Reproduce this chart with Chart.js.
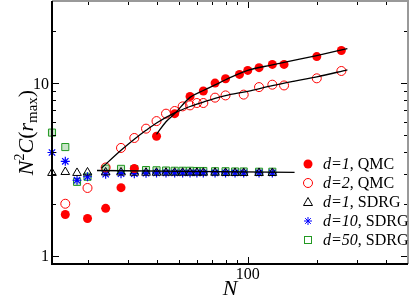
<!DOCTYPE html>
<html lang="en">
  <head>
    <style>
      html, body { margin: 0; padding: 0; background: #fff; }
      .chart { width: 409px; height: 298px; }
    </style>
  </head>
  <body>
    <div class="chart">
      <canvas id="myChart"></canvas>
    </div>

    <script src="https://cdn.jsdelivr.net/npm/chart.js@4.4.1/dist/chart.umd.min.js"></script>
    <script>
      // --- data ---
      var qmc1_n = [16, 20, 24, 28, 32, 40, 48, 56, 64, 72, 80, 92, 100, 112, 128, 144, 200, 256];
      var qmc1_c = [1.74, 1.65, 1.89, 2.49, 3.21, 4.94, 6.68, 8.41, 9.03, 10.04, 10.64, 11.27, 11.89, 12.33, 12.88, 12.88, 14.3, 15.5];

      var qmc2_n = [16, 20, 24, 28, 32, 36, 40, 44, 48, 52, 56, 60, 64, 72, 80, 96, 112, 128, 144, 200, 256];
      var qmc2_c = [2.01, 2.48, 3.26, 4.23, 4.83, 5.47, 6.05, 6.68, 6.92, 7.36, 7.46, 7.7, 7.7, 8.27, 8.52, 8.61, 9.52, 9.83, 9.73, 10.7, 11.8];

      var sdrg_n = [14, 16, 18, 20, 24, 28, 32, 36, 40, 44, 48, 52, 56, 60, 64, 72, 80, 88, 96, 112, 128];
      var sdrg1_c = [3.03, 3.07, 3.03, 3.05, 3.05, 3.05, 3.04, 3.04, 3.04, 3.04, 3.04, 3.04, 3.04, 3.04, 3.04, 3.04, 3.03, 3.03, 3.03, 3.03, 3.03];
      var sdrg10_c = [3.98, 3.54, 2.75, 2.88, 2.98, 3.0, 3.0, 3.02, 3.03, 3.03, 3.03, 3.03, 3.03, 3.03, 3.03, 3.03, 3.03, 3.03, 3.03, 3.03, 3.03];
      var sdrg50_c = [5.19, 4.28, 2.69, 2.88, 3.21, 3.2, 3.19, 3.15, 3.14, 3.13, 3.12, 3.12, 3.12, 3.11, 3.11, 3.1, 3.1, 3.09, 3.09, 3.08, 3.08];

      // fitted curves
      var fit1_n = [40, 44, 48, 56, 64, 72, 80, 100, 128, 144, 200, 272];
      var fit1_c = [5.07, 6.0, 6.68, 8.3, 9.1, 9.8, 10.5, 11.9, 12.8, 13.25, 14.5, 15.9];
      var fit2_n = [23, 28, 32, 36, 40, 48, 56, 64, 72, 80, 100, 128, 160, 200, 272];
      var fit2_c = [3.23, 4.1, 4.75, 5.35, 5.9, 6.75, 7.35, 7.8, 8.2, 8.5, 9.0, 9.7, 10.3, 10.9, 11.98];
      var fitS_n = [22, 160];
      var fitS_c = [3.13, 3.05];

      var x_ticks = [20, 30, 40, 50, 60, 70, 80, 90, 100, 200, 300, 400];
      var y_ticks = [1, 2, 3, 4, 5, 6, 7, 8, 9, 10, 20, 30];
      var x_major = [100];
      var y_major = [1, 10];

      var legend_items = [
        { it: "d=1", rest: ", QMC", marker: "disc", color: "#ff0000" },
        { it: "d=2", rest: ", QMC", marker: "circle", color: "#ff0000" },
        { it: "d=1", rest: ", SDRG", marker: "triangle", color: "#000000" },
        { it: "d=10", rest: ", SDRG", marker: "star", color: "#0000ff" },
        { it: "d=50", rest: ", SDRG", marker: "square", color: "#229922" },
      ];

      function pts(xs, ys) {
        return xs.map(function (x, i) {
          return { x: x, y: ys[i] };
        });
      }

      var SERIF = "'Liberation Serif', 'DejaVu Serif', serif";

      function drawMarker(ctx, kind, color, x, y) {
        ctx.save();
        ctx.strokeStyle = color;
        ctx.fillStyle = color;
        ctx.lineWidth = 1;
        ctx.beginPath();
        if (kind === "disc" || kind === "circle") {
          ctx.arc(x, y, 4.5, 0, Math.PI * 2);
          kind === "disc" ? ctx.fill() : ctx.stroke();
        } else if (kind === "triangle") {
          ctx.moveTo(x, y - 4.5);
          ctx.lineTo(x + 4.5, y + 3.5);
          ctx.lineTo(x - 4.5, y + 3.5);
          ctx.closePath();
          ctx.stroke();
        } else if (kind === "square") {
          ctx.strokeRect(x - 3.5, y - 3.5, 7, 7);
        } else if (kind === "star") {
          for (var a = 0; a < 4; a++) {
            var t = (a * Math.PI) / 4;
            ctx.moveTo(x - 4 * Math.cos(t), y - 4 * Math.sin(t));
            ctx.lineTo(x + 4 * Math.cos(t), y + 4 * Math.sin(t));
          }
          ctx.stroke();
        }
        ctx.restore();
      }

      // frame, inward ticks, tick labels, axis titles and legend
      var decorations = {
        id: "decorations",
        afterDatasetsDraw: function (chart) {
          var ctx = chart.ctx;
          var a = chart.chartArea;
          var xs = chart.scales.x;
          var ys = chart.scales.y;
          ctx.save();

          // ticks
          ctx.strokeStyle = "#000";
          ctx.lineWidth = 1;
          ctx.beginPath();
          x_ticks.forEach(function (v) {
            var px = Math.round(xs.getPixelForValue(v)) + 0.5;
            var len = x_major.indexOf(v) >= 0 ? 7 : 4;
            ctx.moveTo(px, a.bottom);
            ctx.lineTo(px, a.bottom - len);
            ctx.moveTo(px, a.top);
            ctx.lineTo(px, a.top + len);
          });
          y_ticks.forEach(function (v) {
            var py = Math.round(ys.getPixelForValue(v)) + 0.5;
            var len = y_major.indexOf(v) >= 0 ? 7 : 4;
            ctx.moveTo(a.left, py);
            ctx.lineTo(a.left + len, py);
            ctx.moveTo(a.right, py);
            ctx.lineTo(a.right - len, py);
          });
          ctx.stroke();

          // frame
          ctx.lineWidth = 2;
          ctx.strokeStyle = "#999";
          ctx.beginPath();
          ctx.moveTo(a.left, a.top);
          ctx.lineTo(a.right, a.top);
          ctx.lineTo(a.right, a.bottom);
          ctx.stroke();
          ctx.strokeStyle = "#000";
          ctx.beginPath();
          ctx.moveTo(a.left, a.top);
          ctx.lineTo(a.left, a.bottom);
          ctx.lineTo(a.right, a.bottom);
          ctx.stroke();

          // tick labels
          ctx.fillStyle = "#000";
          ctx.font = "16px " + SERIF;
          ctx.textBaseline = "middle";
          ctx.textAlign = "right";
          y_major.forEach(function (v) {
            ctx.fillText(String(v), a.left - 3, ys.getPixelForValue(v) + 1);
          });
          ctx.textAlign = "center";
          ctx.textBaseline = "alphabetic";
          x_major.forEach(function (v) {
            ctx.fillText(String(v), xs.getPixelForValue(v), 279);
          });

          // x title
          ctx.font = "italic 22px " + SERIF;
          ctx.fillText("N", (a.left + a.right) / 2, 295);

          // y title: N^2 C(r_max)
          var parts = [
            { t: "N", f: "italic 22px ", dy: 0 },
            { t: "2", f: "14px ", dy: -9 },
            { t: "C", f: "italic 22px ", dy: 0 },
            { t: "(", f: "22px ", dy: 0 },
            { t: "r", f: "italic 22px ", dy: 0 },
            { t: "max", f: "15px ", dy: 4 },
            { t: ")", f: "22px ", dy: 0 },
          ];
          var total = 0;
          parts.forEach(function (p) {
            ctx.font = p.f + SERIF;
            p.w = ctx.measureText(p.t).width;
            total += p.w;
          });
          ctx.translate(33, (a.top + a.bottom) / 2);
          ctx.rotate(-Math.PI / 2);
          ctx.textAlign = "left";
          var cx = -total / 2;
          parts.forEach(function (p) {
            ctx.font = p.f + SERIF;
            ctx.fillText(p.t, cx, p.dy);
            cx += p.w;
          });
          ctx.restore();

          // legend
          ctx.save();
          ctx.fillStyle = "#000";
          ctx.textBaseline = "middle";
          ctx.textAlign = "left";
          legend_items.forEach(function (item, i) {
            var y = 164 + i * 19;
            drawMarker(ctx, item.marker, item.color, 308, y);
            ctx.font = "italic 16px " + SERIF;
            ctx.fillText(item.it, 323, y + 1);
            var w = ctx.measureText(item.it).width;
            ctx.font = "16px " + SERIF;
            ctx.fillText(item.rest, 323 + w, y + 1);
          });
          ctx.restore();
        },
      };

      var ctx = document.getElementById("myChart");
      var chart = new Chart(ctx, {
        type: "scatter",
        data: {
          datasets: [
            {
              label: "fit d=1",
              data: pts(fit1_n, fit1_c),
              showLine: true,
              borderColor: "#000",
              borderWidth: 1.3,
              pointRadius: 0,
              cubicInterpolationMode: "monotone",
            },
            {
              label: "fit d=2",
              data: pts(fit2_n, fit2_c),
              showLine: true,
              borderColor: "#000",
              borderWidth: 1.3,
              pointRadius: 0,
              cubicInterpolationMode: "monotone",
            },
            {
              label: "fit SDRG",
              data: pts(fitS_n, fitS_c),
              showLine: true,
              borderColor: "#000",
              borderWidth: 1.3,
              pointRadius: 0,
            },
            {
              label: "d=1, QMC",
              data: pts(qmc1_n, qmc1_c),
              pointStyle: "circle",
              pointRadius: 4.5,
              backgroundColor: "#ff0000",
              borderColor: "#ff0000",
              borderWidth: 0,
            },
            {
              label: "d=2, QMC",
              data: pts(qmc2_n, qmc2_c),
              pointStyle: "circle",
              pointRadius: 4.5,
              backgroundColor: "rgba(0,0,0,0)",
              borderColor: "#ff0000",
              borderWidth: 1,
            },
            {
              label: "d=1, SDRG",
              data: pts(sdrg_n, sdrg1_c),
              pointStyle: "triangle",
              pointRadius: 5,
              backgroundColor: "rgba(0,0,0,0)",
              borderColor: "#000",
              borderWidth: 1,
            },
            {
              label: "d=10, SDRG",
              data: pts(sdrg_n, sdrg10_c),
              pointStyle: "star",
              pointRadius: 4.5,
              backgroundColor: "#0000ff",
              borderColor: "#0000ff",
              borderWidth: 1.2,
            },
            {
              label: "d=50, SDRG",
              data: pts(sdrg_n, sdrg50_c),
              pointStyle: "rect",
              pointRadius: 5,
              backgroundColor: "rgba(34,153,34,0.25)",
              borderColor: "#229922",
              borderWidth: 1,
            },
          ],
        },
        options: {
          responsive: true,
          maintainAspectRatio: false,
          animation: false,
          events: [],
          clip: false,
          layout: {
            autoPadding: false,
            padding: { top: 1, right: 1, left: 0, bottom: 0 },
          },
          scales: {
            x: {
              type: "logarithmic",
              min: 14,
              max: 500,
              grid: { display: false, drawTicks: false },
              border: { display: false },
              ticks: { display: false },
              afterBuildTicks: function (s) {
                s.ticks = x_ticks.map(function (v) {
                  return { value: v };
                });
              },
              afterFit: function (s) {
                s.height = 34;
              },
            },
            y: {
              type: "logarithmic",
              min: 0.9,
              max: 30,
              grid: { display: false, drawTicks: false },
              border: { display: false },
              ticks: { display: false },
              afterBuildTicks: function (s) {
                s.ticks = y_ticks.map(function (v) {
                  return { value: v };
                });
              },
              afterFit: function (s) {
                s.width = 52;
              },
            },
          },
          plugins: {
            legend: { display: false },
            tooltip: { enabled: false },
          },
        },
        plugins: [decorations],
      });
    </script>
  </body>
</html>
